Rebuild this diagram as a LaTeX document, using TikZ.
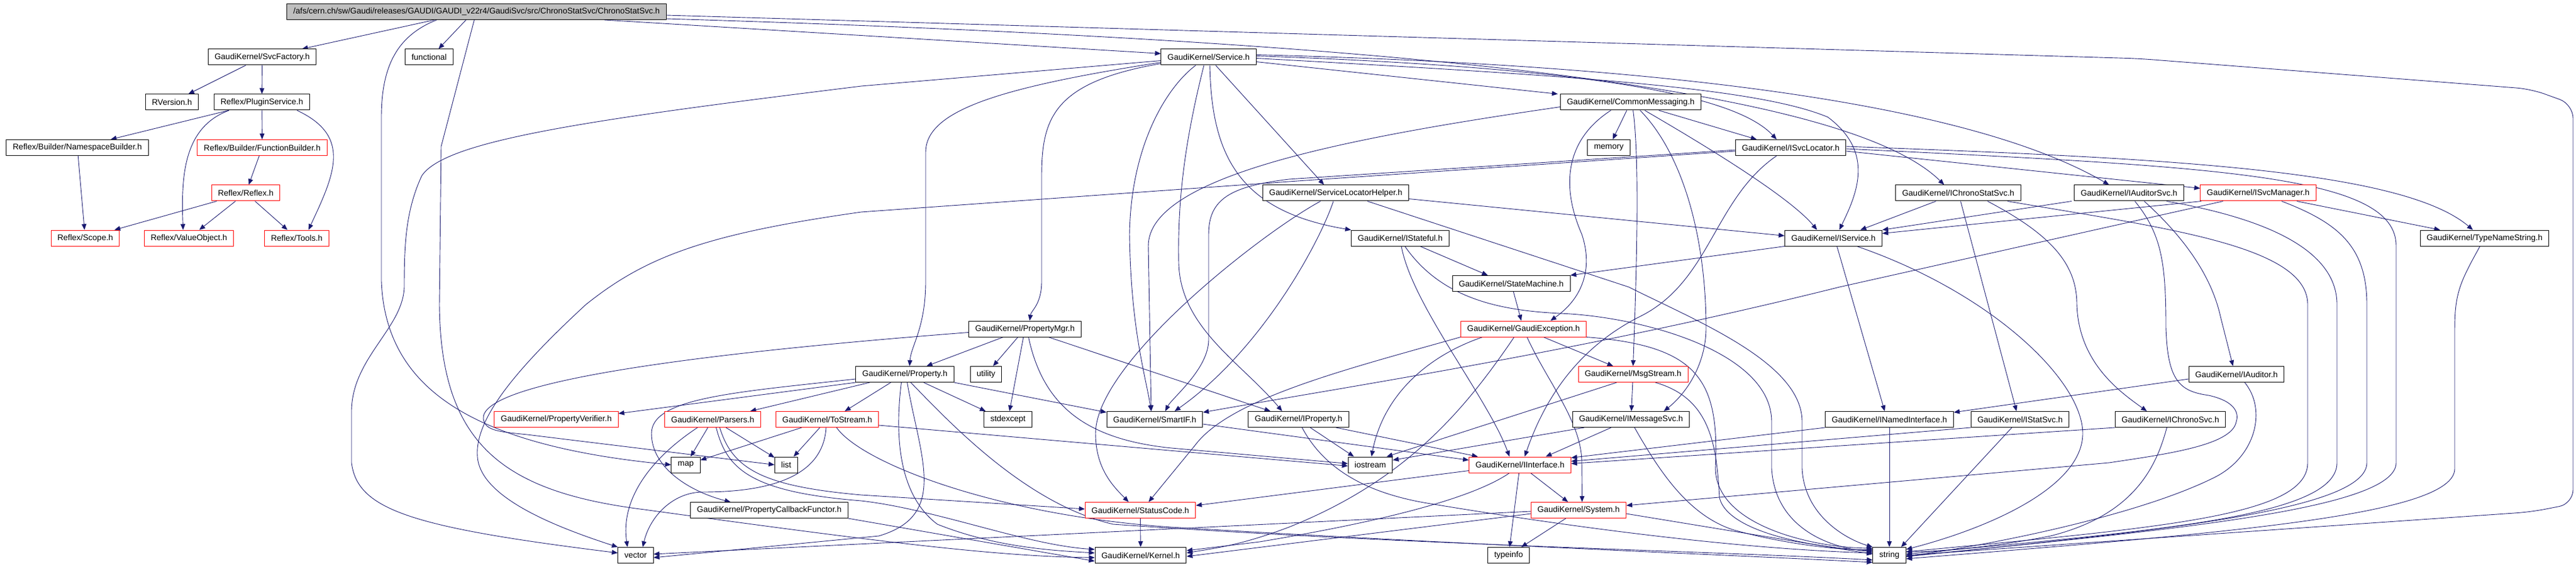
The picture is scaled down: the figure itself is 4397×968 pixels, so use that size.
\documentclass[tikz,border=0pt]{standalone}
\usepackage{fontspec}
\setmainfont{Liberation Sans}
\usetikzlibrary{arrows.meta}
\usetikzlibrary{backgrounds}
\definecolor{edgeblue}{HTML}{191970}
\definecolor{rootgray}{HTML}{BFBFBF}
\tikzset{
  hdr/.style={draw=black, fill=white, line width=0.5pt, inner xsep=5.5pt, inner ysep=0pt, minimum height=13.5pt, font=\fontsize{7pt}{8.4pt}\selectfont},
  hdrred/.style={hdr, draw=red},
  hdrroot/.style={hdr, fill=rootgray},
  incl/.style={draw=edgeblue, line width=0.45pt, ->, >={Triangle[length=5pt,width=4pt]}}
}

\begin{document}
\begin{tikzpicture}[x=0.5pt,y=-0.5pt]
\useasboundingbox (0,0) rectangle (4397,968);
\node[hdrroot] (root) at (813.5,20) {/afs/cern.ch/sw/Gaudi/releases/GAUDI/GAUDI\_v22r4/GaudiSvc/src/ChronoStatSvc/ChronoStatSvc.h};
\node[hdr] (svcfac) at (447.5,97.5) {GaudiKernel/SvcFactory.h};
\node[hdr] (functional) at (732.5,97.5) {functional};
\node[hdr] (service) at (2063,97.5) {GaudiKernel/Service.h};
\node[hdr] (rversion) at (293.5,174.5) {RVersion.h};
\node[hdr] (plugin) at (447,174.5) {Reflex/PluginService.h};
\node[hdr] (commsg) at (2783.5,174.5) {GaudiKernel/CommonMessaging.h};
\node[hdr] (nsbuilder) at (132,252) {Reflex/Builder/NamespaceBuilder.h};
\node[hdrred] (fnbuilder) at (447.5,252) {Reflex/Builder/FunctionBuilder.h};
\node[hdr] (memory) at (2746,252) {memory};
\node[hdr] (isvcloc) at (3056.5,252) {GaudiKernel/ISvcLocator.h};
\node[hdrred] (reflex) at (419.5,329.5) {Reflex/Reflex.h};
\node[hdr] (slhelper) at (2280,329.5) {GaudiKernel/ServiceLocatorHelper.h};
\node[hdr] (ichronostat) at (3342.5,329.5) {GaudiKernel/IChronoStatSvc.h};
\node[hdr] (iauditorsvc) at (3634,329.5) {GaudiKernel/IAuditorSvc.h};
\node[hdrred] (isvcmgr) at (3854.5,329.5) {GaudiKernel/ISvcManager.h};
\node[hdrred] (scope) at (145.5,406.5) {Reflex/Scope.h};
\node[hdrred] (valueobj) at (322.5,406.5) {Reflex/ValueObject.h};
\node[hdrred] (tools) at (506.5,406.5) {Reflex/Tools.h};
\node[hdr] (istateful) at (2390,406.5) {GaudiKernel/IStateful.h};
\node[hdr] (iservice) at (3129.5,406.5) {GaudiKernel/IService.h};
\node[hdr] (typename) at (4241,406.5) {GaudiKernel/TypeNameString.h};
\node[hdr] (statemachine) at (2579.5,484) {GaudiKernel/StateMachine.h};
\node[hdr] (propmgr) at (1749.5,561.5) {GaudiKernel/PropertyMgr.h};
\node[hdrred] (gaudiexc) at (2600.5,561.5) {GaudiKernel/GaudiException.h};
\node[hdr] (property) at (1544.5,639) {GaudiKernel/Property.h};
\node[hdr] (utility) at (1683,639) {utility};
\node[hdrred] (msgstream) at (2787.5,639) {GaudiKernel/MsgStream.h};
\node[hdr] (iauditor) at (3817.5,639) {GaudiKernel/IAuditor.h};
\node[hdrred] (propverifier) at (949.5,716) {GaudiKernel/PropertyVerifier.h};
\node[hdrred] (parsers) at (1216.5,716) {GaudiKernel/Parsers.h};
\node[hdrred] (tostream) at (1412,716) {GaudiKernel/ToStream.h};
\node[hdr] (stdexcept) at (1720.5,716) {stdexcept};
\node[hdr] (smartif) at (1971,716) {GaudiKernel/SmartIF.h};
\node[hdr] (iproperty) at (2216.5,716) {GaudiKernel/IProperty.h};
\node[hdr] (imessagesvc) at (2784,716) {GaudiKernel/IMessageSvc.h};
\node[hdr] (inamed) at (3225,716) {GaudiKernel/INamedInterface.h};
\node[hdr] (istatsvc) at (3448,716) {GaudiKernel/IStatSvc.h};
\node[hdr] (ichronosvc) at (3704.5,716) {GaudiKernel/IChronoSvc.h};
\node[hdr] (map) at (1170.5,793.5) {map};
\node[hdr] (list) at (1342,793.5) {list};
\node[hdr] (iostream) at (2339,793.5) {iostream};
\node[hdrred] (iinterface) at (2594.5,793.5) {GaudiKernel/IInterface.h};
\node[hdr] (propcallback) at (1313,871) {GaudiKernel/PropertyCallbackFunctor.h};
\node[hdrred] (statuscode) at (1946.5,871) {GaudiKernel/StatusCode.h};
\node[hdrred] (system) at (2694.5,871) {GaudiKernel/System.h};
\node[hdr] (vector) at (1085,948) {vector};
\node[hdr] (kernel) at (1947,948) {GaudiKernel/Kernel.h};
\node[hdr] (typeinfo) at (2575,948) {typeinfo};
\node[hdr] (string) at (3225,948) {string};

\begin{scope}[on background layer]
\draw[incl] ([xshift=-36pt]root.south) -- ([xshift=34pt]svcfac.north);
\draw[incl] ([xshift=-9pt]root.south) -- ([xshift=8pt]functional.north);
\draw[incl] (svcfac) -- (rversion);
\draw[incl] (svcfac) -- (plugin);
\draw[incl] (plugin) -- (nsbuilder);
\draw[incl] (plugin) -- (fnbuilder);
\draw[incl] ([xshift=-28pt]plugin.south) to[out=-160,in=92] ([xshift=-5pt]valueobj.north);
\draw[incl] ([xshift=30pt]plugin.south) to[out=-25,in=65,looseness=1.3] ([xshift=10pt]tools.north);
\draw[incl] (fnbuilder) -- (reflex);
\draw[incl] (nsbuilder) -- (scope);
\draw[incl] (reflex) -- (scope);
\draw[incl] (reflex) -- (valueobj);
\draw[incl] (reflex) -- (tools);

\draw[incl] ([xshift=109pt]root.south) -- ([yshift=3pt]service.west);
\draw[incl] ([yshift=-6pt]root.east) .. controls (2400,70) and (3150,150) .. ([xshift=-12pt]ichronostat.north);
\draw[incl,rounded corners=12pt] ([yshift=-3pt]root.east) -- (3650,100) -- (4320,152) -- (4392,178) -- (4392,860) -- (4320,874) -- (string.east);
\draw[incl] ([xshift=-34pt]root.south) .. controls (680,60) and (651,110) .. (651,200) -- (651,480) .. controls (658,660) and (800,760) .. (map.west);
\draw[incl] ([xshift=-2pt]root.south) -- (753,250) -- (750,520) .. controls (752,760) and (860,840) .. (1100,870) .. controls (1500,925) and (1700,950) .. ([yshift=-2pt]kernel.west);

\draw[incl] ([yshift=-4pt]service.east) -- ([xshift=-2pt]commsg.north west);
\draw[incl] ([xshift=6pt]service.south) -- ([xshift=-10pt]slhelper.north);
\draw[incl] ([xshift=1pt]service.south) .. controls (2068,260) and (2110,360) .. (istateful.north west);
\draw[incl] ([yshift=-5.5pt]service.west) .. controls (1800,140) and (1778,200) .. (1778,300) -- (1778,480) .. controls (1778,520) and (1760,530) .. ([xshift=4pt]propmgr.north);
\draw[incl] ([yshift=-4.5pt]service.west) .. controls (1700,150) and (1580,190) .. (1580,260) -- (1580,480) .. controls (1580,560) and (1555,590) .. ([xshift=4pt]property.north);
\draw[incl] ([yshift=-3pt]service.west) -- (1470,147) .. controls (1000,205) and (760,240) .. (720,300) .. controls (692,360) and (690,420) .. (690,490) .. controls (688,560) and (602,610) .. (600,700) -- (600,790) .. controls (610,870) and (700,900) .. ([yshift=2pt]vector.west);
\draw[incl] ([xshift=-4pt]service.south) .. controls (2020,250) and (2010,350) .. (2012,450) .. controls (2015,560) and (2120,620) .. ([xshift=-14pt]iproperty.north);
\draw[incl] ([xshift=-11pt]service.south) .. controls (1990,150) and (1930,250) .. (1928,400) .. controls (1930,560) and (1955,640) .. ([xshift=-3pt]smartif.north);
\draw[incl] ([yshift=-1pt]service.east) .. controls (2700,130) and (3000,150) .. (3120,200) .. controls (3200,260) and (3170,330) .. ([xshift=5pt]iservice.north);
\draw[incl] ([yshift=1pt]service.east) .. controls (2700,115) and (2960,160) .. ([xshift=-12pt]isvcloc.north);
\draw[incl] ([yshift=2pt]service.east) .. controls (2800,110) and (3350,170) .. ([xshift=-17pt]iauditorsvc.north);

\draw[incl] (commsg) -- (memory);
\draw[incl] ([xshift=24pt]commsg.south) -- ([xshift=-29pt]isvcloc.north);
\draw[incl] ([xshift=12pt]commsg.south) .. controls (2870,225) and (3050,330) .. ([xshift=-14pt]iservice.north);
\draw[incl] ([xshift=2pt]commsg.south) .. controls (2800,280) and (2792,500) .. (msgstream.north);
\draw[incl] ([xshift=8pt]commsg.south) .. controls (2870,260) and (2912,400) .. (2912,560) .. controls (2912,620) and (2880,670) .. ([xshift=28pt]imessagesvc.north);
\draw[incl] ([xshift=-17pt]commsg.south) .. controls (2670,240) and (2665,320) .. (2700,400) .. controls (2720,460) and (2700,510) .. ([xshift=23pt]gaudiexc.north);
\draw[incl] ([yshift=-4pt]commsg.west) .. controls (2300,235) and (1960,300) .. (1960,420) -- ([xshift=-3pt]smartif.north);

\draw[incl] ([yshift=-3pt]isvcloc.east) -- ([yshift=4pt]isvcmgr.west);
\draw[incl] ([yshift=1pt]isvcloc.east) .. controls (3700,270) and (4100,290) .. ([xshift=-10pt]typename.north);
\draw[incl] ([yshift=-1pt]isvcloc.east) .. controls (3800,285) and (4090,300) .. (4090,420) -- (4090,790) .. controls (4090,870) and (3700,905) .. ([yshift=-1pt]string.east);
\draw[incl] ([yshift=-2pt]isvcloc.west) -- (2200,306) .. controls (2100,318) and (2063,340) .. (2063,400) -- (2063,580) .. controls (2063,630) and (2000,680) .. ([xshift=9pt]smartif.north);
\draw[incl] ([yshift=-3pt]isvcloc.west) -- (2200,310) -- (1470,362) .. controls (1200,400) and (1100,440) .. (1000,520) .. controls (870,640) and (810,720) .. (815,780) .. controls (820,850) and (950,900) .. (vector.north west);
\draw[incl] ([xshift=-12pt]isvcloc.south) .. controls (2925,340) and (2920,480) .. (2800,540) .. controls (2680,600) and (2630,700) .. ([xshift=4pt]iinterface.north);

\draw[incl] ([yshift=-5pt]slhelper.east) -- ([yshift=2pt]iservice.west);
\draw[incl] ([xshift=-2pt]slhelper.south) .. controls (2250,420) and (2150,600) .. ([xshift=17pt]smartif.north);
\draw[incl] ([xshift=-13pt]slhelper.south) .. controls (2150,400) and (1870,620) .. (1870,740) .. controls (1870,800) and (1900,830) .. ([xshift=-10pt]statuscode.north);
\draw[incl] ([xshift=27pt]slhelper.south) -- (2780,490) .. controls (2900,550) and (3076,620) .. (3076,720) -- (3076,800) .. controls (3080,880) and (3150,920) .. (string.north west);

\draw[incl] ([xshift=17pt]istateful.south) -- ([xshift=-20pt]statemachine.north);
\draw[incl] ([xshift=1pt]istateful.south) .. controls (2410,520) and (2540,680) .. ([xshift=-9pt]iinterface.north);
\draw[incl] ([xshift=4pt]istateful.south) .. controls (2460,510) and (2560,530) .. (2662,535) .. controls (2800,540) and (3024,600) .. (3024,720) -- (3024,800) .. controls (3030,900) and (3120,935) .. ([yshift=3pt]string.west);

\draw[incl] ([xshift=-19pt]ichronostat.south) -- ([xshift=23pt]iservice.north);
\draw[incl] ([xshift=2pt]ichronostat.south) -- ([xshift=-3pt]istatsvc.north);
\draw[incl] ([xshift=25pt]ichronostat.south) .. controls (3500,400) and (3545,450) .. (3545,520) .. controls (3548,620) and (3620,670) .. ([xshift=-20pt]ichronosvc.north);
\draw[incl] ([xshift=42pt]ichronostat.south) .. controls (3700,390) and (3939,420) .. (3939,520) -- (3939,790) .. controls (3939,880) and (3700,900) .. ([yshift=3pt]string.east);

\draw[incl] ([xshift=-2pt]iauditorsvc.south west) -- ([yshift=7pt]iservice.east);
\draw[incl] ([xshift=13pt]iauditorsvc.south) .. controls (3700,380) and (3770,450) .. (3790,540) -- ([xshift=-3pt]iauditor.north);
\draw[incl] ([xshift=32pt]iauditorsvc.south) .. controls (3850,370) and (3989,420) .. (3989,520) -- (3989,790) .. controls (3989,880) and (3700,905) .. ([yshift=1pt]string.east);
\draw[incl] ([xshift=5pt]iauditorsvc.south) .. controls (3690,400) and (3697,450) .. (3697,560) .. controls (3700,650) and (3720,668) .. (3770,675) .. controls (3815,685) and (3822,705) .. (3817,720) .. controls (3810,760) and (3700,775) .. (3600,790) -- ([yshift=4pt]system.east);

\draw[incl] ([xshift=1pt]isvcmgr.south west) -- ([yshift=4pt]iservice.east);
\draw[incl] ([xshift=33pt]isvcmgr.south) -- ([xshift=-38pt]typename.north);
\draw[incl] ([xshift=20pt]isvcmgr.south) .. controls (3990,380) and (4040,420) .. (4040,520) -- (4040,790) .. controls (4040,870) and (3700,905) .. ([yshift=-1pt]string.east);
\draw[incl] ([xshift=-30pt]isvcmgr.south) -- (3140,490) .. controls (2700,600) and (2300,660) .. ([yshift=6pt]smartif.east);

\draw[incl] ([xshift=-4pt]typename.south) .. controls (4200,480) and (4190,500) .. (4190,560) -- (4190,800) .. controls (4190,880) and (3800,910) .. ([yshift=-3pt]string.east);

\draw[incl] (iservice.south west) -- (statemachine.north east);
\draw[incl] ([xshift=3pt]iservice.south) -- ([xshift=-4pt]inamed.north);
\draw[incl] ([xshift=20pt]iservice.south) .. controls (3400,500) and (3555,650) .. (3555,740) .. controls (3555,830) and (3400,900) .. ([yshift=5pt]string.east);

\draw[incl] (statemachine) -- (gaudiexc);

\draw[incl] (propmgr) -- (property);
\draw[incl] (propmgr) -- (utility);
\draw[incl] (propmgr) -- (stdexcept);
\draw[incl] ([xshift=20pt]propmgr.south) -- ([xshift=-24pt]iproperty.north);
\draw[incl] ([yshift=-3pt]propmgr.west) .. controls (1100,610) and (820,660) .. (825,715) .. controls (828,735) and (850,737) .. (900,742) -- (list.west);
\draw[incl] ([xshift=3pt]propmgr.south) .. controls (1780,690) and (1850,750) .. (2000,765) -- ([yshift=1pt]iostream.west);

\draw[incl] (property.south west) -- ([yshift=5pt]propverifier.east);
\draw[incl] ([xshift=-30pt]property.south) -- ([xshift=32pt]parsers.north);
\draw[incl] ([xshift=-12pt]property.south) -- ([xshift=15pt]tostream.north);
\draw[incl] ([xshift=16pt]property.south) -- ([xshift=-19pt]stdexcept.north);
\draw[incl] (property.south east) -- ([yshift=6pt]smartif.west);
\draw[incl] ([yshift=-4pt]property.west) .. controls (1250,670) and (1112,680) .. (1112,740) .. controls (1112,800) and (1180,840) .. ([xshift=-33pt]propcallback.north);
\draw[incl] ([xshift=-3pt]property.south) .. controls (1525,760) and (1540,850) .. (1600,895) .. controls (1700,935) and (1800,940) .. ([yshift=2pt]kernel.west);
\draw[incl] ([xshift=5pt]property.south) .. controls (1620,720) and (1750,860) .. (1900,895) .. controls (2400,930) and (2900,940) .. ([yshift=-4pt]string.west);
\draw[incl] ([xshift=2pt]property.south) .. controls (1570,780) and (1620,880) .. (1500,915) -- ([yshift=-2pt]vector.east);

\draw[incl] (parsers) -- (map);
\draw[incl] (parsers) -- (list);
\draw[incl] ([xshift=-13pt]parsers.south) .. controls (1100,790) and (1060,860) .. ([xshift=-7pt]vector.north);
\draw[incl] ([xshift=6pt]parsers.south) .. controls (1250,800) and (1300,830) .. (1470,845) -- ([yshift=1pt]statuscode.west);
\draw[incl] ([xshift=3pt]parsers.south) .. controls (1240,800) and (1280,840) .. (1470,855) .. controls (1600,870) and (1750,930) .. ([yshift=5pt]kernel.west);

\draw[incl] (tostream) -- (map);
\draw[incl] (tostream) -- (list);
\draw[incl] ([xshift=-1pt]tostream.south) .. controls (1405,820) and (1300,840) .. (1200,840) .. controls (1150,840) and (1110,880) .. ([xshift=6pt]vector.north);
\draw[incl] ([xshift=8pt]tostream.south) .. controls (1470,790) and (1700,880) .. (2000,900) .. controls (2500,930) and (2900,945) .. ([yshift=-6pt]string.west);
\draw[incl] ([yshift=-5pt]tostream.east) -- ([yshift=-1pt]iostream.west);

\draw[incl] (propcallback.south east) -- ([yshift=-5pt]kernel.west);
\draw[incl] ([yshift=-4pt]smartif.east) -- ([yshift=4pt]iinterface.west);

\draw[incl] ([xshift=10pt]iproperty.south) -- ([xshift=-14pt]iostream.north);
\draw[incl] ([xshift=32pt]iproperty.south) -- ([xshift=-36pt]iinterface.north);
\draw[incl] ([xshift=3pt]iproperty.south) .. controls (2260,800) and (2330,840) .. (2430,858) .. controls (2800,920) and (3050,940) .. ([yshift=2pt]string.west);

\draw[incl] ([xshift=-17pt]imessagesvc.south) -- ([xshift=22pt]iinterface.north);
\draw[incl] ([xshift=-40pt]imessagesvc.south) -- ([yshift=4pt]iostream.east);
\draw[incl] ([xshift=3pt]imessagesvc.south) .. controls (2830,800) and (2880,880) .. (2960,905) .. controls (3050,930) and (3150,940) .. ([yshift=5pt]string.west);

\draw[incl] (msgstream) -- (imessagesvc);
\draw[incl] ([xshift=-14pt]msgstream.south) -- ([xshift=14pt]iostream.north);
\draw[incl] ([xshift=19pt]msgstream.south) .. controls (2920,680) and (2930,760) .. (2935,850) .. controls (2950,910) and (3100,935) .. ([yshift=4pt]string.west);

\draw[incl] ([xshift=17pt]gaudiexc.south) -- ([xshift=-17pt]msgstream.north);
\draw[incl] ([xshift=-35pt]gaudiexc.south) .. controls (2430,610) and (2360,680) .. ([xshift=1pt]iostream.north);
\draw[incl] ([xshift=3pt]gaudiexc.south) .. controls (2640,650) and (2700,720) .. (2700,790) -- ([xshift=3pt]system.north);
\draw[incl] (gaudiexc.south east) .. controls (2900,590) and (2935,650) .. (2928,800) .. controls (2930,900) and (3100,935) .. ([yshift=6pt]string.west);
\draw[incl] (gaudiexc.south west) .. controls (2300,630) and (2100,680) .. (2040,760) -- ([xshift=7pt]statuscode.north);
\draw[incl] ([xshift=-8pt]gaudiexc.south) .. controls (2500,700) and (2400,820) .. (2200,900) .. controls (2120,930) and (2080,935) .. ([yshift=2pt]kernel.east);

\draw[incl] (iinterface) -- (system);
\draw[incl] (iinterface) -- (typeinfo);
\draw[incl] ([yshift=-5pt]iinterface.west) -- ([yshift=4pt]statuscode.east);
\draw[incl] ([xshift=-9pt]iinterface.south) .. controls (2500,860) and (2300,900) .. (2150,925) -- ([yshift=4pt]kernel.east);

\draw[incl] (system) -- (typeinfo);
\draw[incl] ([yshift=-3pt]system.west) -- ([yshift=-1pt]kernel.east);
\draw[incl] ([yshift=-1pt]system.west) -- ([yshift=1pt]vector.east);
\draw[incl] ([yshift=-3pt]system.east) -- ([yshift=1pt]string.west);
\draw[incl] (statuscode) -- (kernel);

\draw[incl] (inamed.south west) -- ([yshift=6pt]iinterface.east);
\draw[incl] (inamed) -- (string);
\draw[incl] (istatsvc.south west) -- ([yshift=3pt]iinterface.east);
\draw[incl] ([xshift=-7pt]istatsvc.south) -- ([xshift=10pt]string.north);
\draw[incl] (ichronosvc.south west) -- ([yshift=1pt]iinterface.east);
\draw[incl] ([xshift=-3pt]ichronosvc.south) .. controls (3680,800) and (3640,880) .. (3500,915) .. controls (3400,935) and (3300,942) .. ([yshift=3pt]string.east);
\draw[incl] ([yshift=-4pt]iauditor.west) -- ([yshift=6pt]inamed.east);
\draw[incl] ([xshift=7pt]iauditor.south) .. controls (3870,700) and (3850,780) .. (3780,815) .. controls (3650,880) and (3400,930) .. ([yshift=-1pt]string.east);
\end{scope}
\end{tikzpicture}
\end{document}
